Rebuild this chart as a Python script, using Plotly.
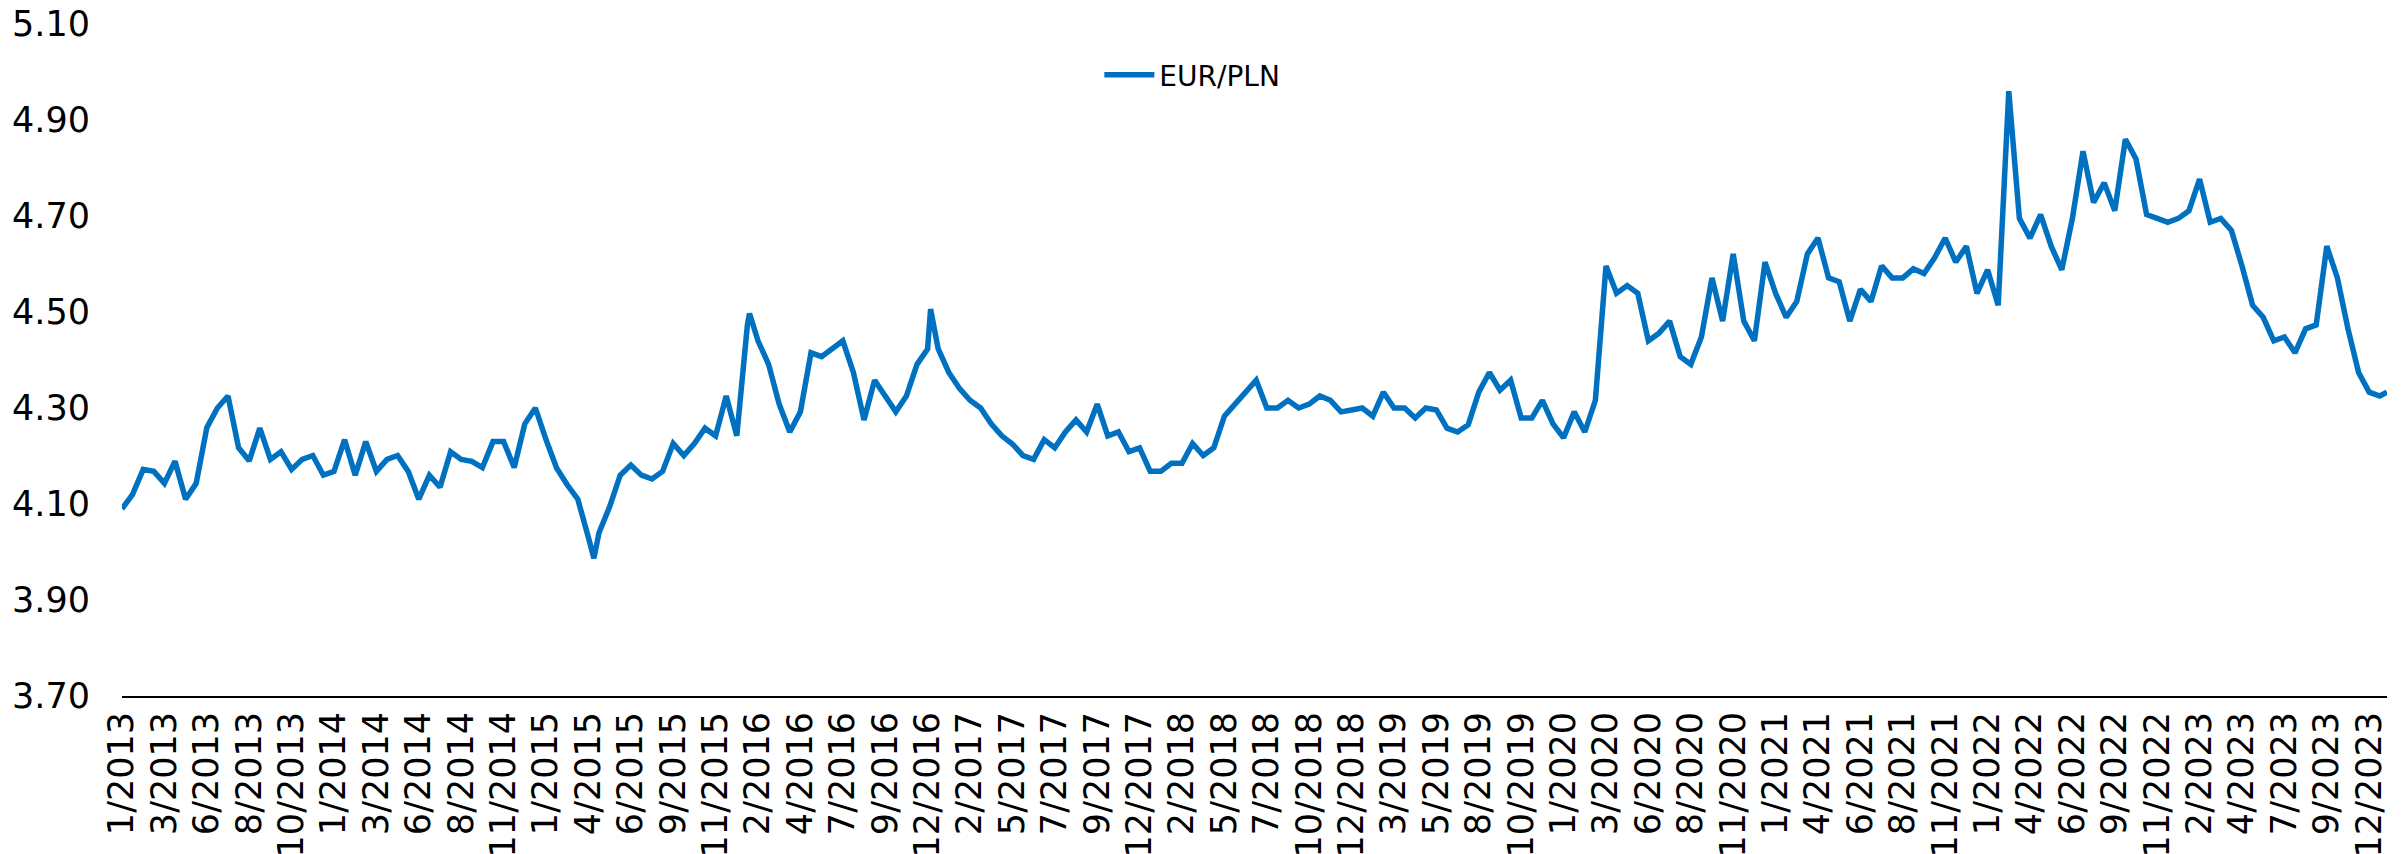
import numpy as np
import plotly.graph_objects as go

# Tick labels (one every ~54 business days, as in the source category axis)
tick_labels = [
    "1/2013", "3/2013", "6/2013", "8/2013", "10/2013", "1/2014", "3/2014", "6/2014", "8/2014",
    "11/2014", "1/2015", "4/2015", "6/2015", "9/2015", "11/2015", "2/2016", "4/2016", "7/2016",
    "9/2016", "12/2016", "2/2017", "5/2017", "7/2017", "9/2017", "12/2017", "2/2018", "5/2018",
    "7/2018", "10/2018", "12/2018", "3/2019", "5/2019", "8/2019", "10/2019", "1/2020", "3/2020",
    "6/2020", "8/2020", "11/2020", "1/2021", "4/2021", "6/2021", "8/2021", "11/2021", "1/2022",
    "4/2022", "6/2022", "9/2022", "11/2022", "2/2023", "4/2023", "7/2023", "9/2023", "12/2023",
]

# EUR/PLN, four readings per tick-label interval
eurpln = [
    4.09, 4.12, 4.172, 4.168, 4.143, 4.189, 4.11, 4.143,          # 1/2013 - 3/2013
    4.259, 4.30, 4.325, 4.217, 4.19, 4.258, 4.193, 4.209,         # 6/2013 - 8/2013
    4.172, 4.193, 4.201, 4.160, 4.168, 4.234, 4.160, 4.230,       # 10/2013 - 1/2014
    4.168, 4.193, 4.201, 4.168, 4.11, 4.160, 4.135, 4.209,        # 3/2014 - 6/2014
    4.193, 4.189, 4.176, 4.230, 4.230, 4.176, 4.267, 4.30,        # 8/2014 - 11/2014
    4.234, 4.175, 4.14, 4.11, 4.03, 4.04, 4.094, 4.160,           # 1/2015 - 4/2015
    4.181, 4.160, 4.152, 4.168, 4.226, 4.201, 4.226, 4.258,       # 6/2015 - 9/2015
    4.242, 4.325, 4.242, 4.473, 4.44, 4.391, 4.308, 4.25,         # 11/2015 - 2/2016
    4.292, 4.415, 4.407, 4.423, 4.44, 4.374, 4.275, 4.358,        # 4/2016 - 7/2016
    4.325, 4.292, 4.325, 4.391, 4.423, 4.423, 4.374, 4.341,       # 9/2016 - 12/2016
    4.316, 4.30, 4.267, 4.242, 4.225, 4.201, 4.193, 4.234,        # 2/2017 - 5/2017
    4.217, 4.25, 4.275, 4.25, 4.308, 4.242, 4.25, 4.209,          # 7/2017 - 9/2017
    4.217, 4.168, 4.168, 4.185, 4.185, 4.226, 4.201, 4.217,       # 12/2017 - 2/2018
    4.283, 4.308, 4.333, 4.358, 4.30, 4.30, 4.316, 4.30,          # 5/2018 - 7/2018
    4.308, 4.325, 4.316, 4.292, 4.296, 4.30, 4.283, 4.333,        # 10/2018 - 12/2018
    4.30, 4.30, 4.279, 4.30, 4.296, 4.258, 4.25, 4.265,           # 3/2019 - 5/2019
    4.333, 4.374, 4.337, 4.358, 4.279, 4.279, 4.316, 4.267,       # 8/2019 - 10/2019
    4.238, 4.292, 4.25, 4.316, 4.596, 4.539, 4.555, 4.539,        # 1/2020 - 3/2020
    4.44, 4.456, 4.481, 4.407, 4.391, 4.448, 4.571, 4.481,        # 6/2020 - 8/2020
    4.621, 4.481, 4.44, 4.604, 4.539, 4.489, 4.522, 4.621,        # 11/2020 - 1/2021
    4.654, 4.571, 4.563, 4.481, 4.547, 4.522, 4.596, 4.571,       # 4/2021 - 6/2021
    4.571, 4.59, 4.58, 4.613, 4.654, 4.604, 4.637, 4.539,         # 8/2021 - 11/2021
    4.588, 4.514, 4.96, 4.695, 4.654, 4.703, 4.637, 4.588,        # 1/2022 - 4/2022
    4.695, 4.835, 4.728, 4.769, 4.711, 4.860, 4.819, 4.703,       # 6/2022 - 9/2022
    4.695, 4.687, 4.695, 4.711, 4.777, 4.687, 4.695, 4.670,       # 11/2022 - 2/2023
    4.596, 4.514, 4.489, 4.44, 4.448, 4.415, 4.465, 4.473,        # 4/2023 - 7/2023
    4.637, 4.571, 4.465, 4.374, 4.333, 4.325,                     # 9/2023 - 12/2023
]

# Extra readings at sharp extremes and the final observation (position in label intervals)
extra_pos = [11.13, 14.80, 19.07, 53.42]
extra_val = [3.987, 4.497, 4.506, 4.333]

pos = np.concatenate([np.arange(len(eurpln)) * 0.25, extra_pos])
val = np.concatenate([eurpln, extra_val])
order = np.argsort(pos)
pos, val = pos[order], val[order]

y_ticks = np.round(np.arange(3.70, 5.101, 0.20), 2)

FONT = "DejaVu Sans"
BLUE = "#0070C0"

fig = go.Figure()
fig.add_trace(go.Scatter(
    x=pos, y=val, mode="lines", name="EUR/PLN",
    line=dict(color=BLUE, width=5.5),
))

fig.update_layout(
    width=2407, height=854,
    margin=dict(l=114, r=28, t=16, b=166),
    paper_bgcolor="white", plot_bgcolor="white",
    font=dict(family=FONT, color="black", size=32),
    showlegend=True,
    legend=dict(
        x=0.4315, y=0.924, xanchor="left", yanchor="middle",
        bgcolor="rgba(0,0,0,0)", font=dict(size=28, family=FONT, color="black"),
        itemwidth=50,
    ),
    xaxis=dict(
        range=[0, 53.42], showgrid=False, zeroline=False, automargin=False,
        showline=True, linecolor="black", linewidth=2,
        tickmode="array", tickvals=list(range(len(tick_labels))), ticktext=tick_labels,
        tickangle=-90, ticks="", tickfont=dict(size=35, family=FONT, color="black"),
        ticklabeloverflow="allow",
    ),
    yaxis=dict(
        range=[3.70, 5.10], showgrid=False, zeroline=False, showline=False, automargin=False,
        tickmode="array", tickvals=y_ticks, ticktext=[f"{v:.2f}" for v in y_ticks],
        ticks="", tickfont=dict(size=35, family=FONT, color="black"),
        ticklabelstandoff=31, ticklabeloverflow="allow",
    ),
)

fig.write_html("out.html")
